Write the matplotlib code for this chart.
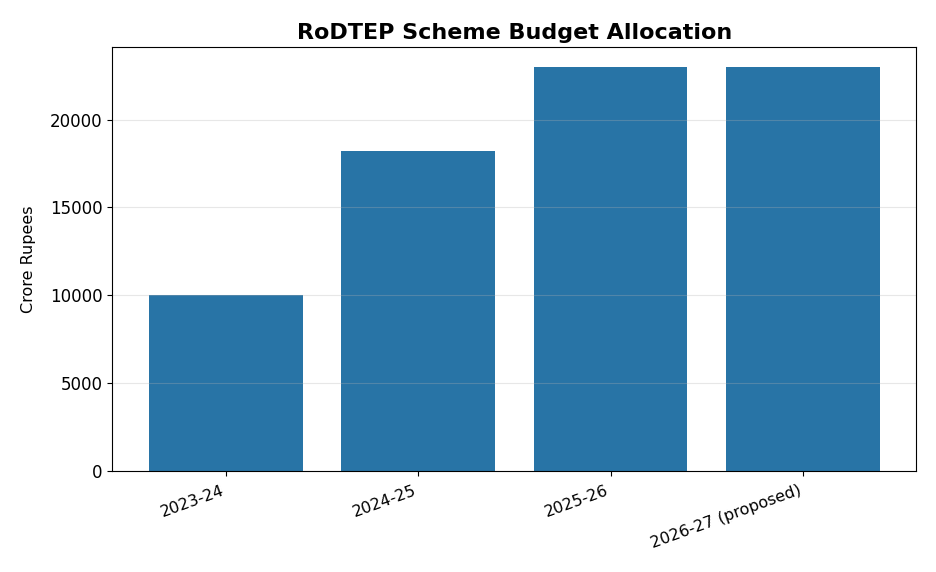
import matplotlib.pyplot as plt

# Budget allocation data
years = ['2023-24', '2024-25', '2025-26', '2026-27 (proposed)']
allocation = [10000, 18233, 23000, 23000]

fig, ax = plt.subplots(figsize=(9.36, 5.72), dpi=100)

ax.bar(years, allocation, color='#2874A6')
ax.grid(axis='y', alpha=0.3)

ax.set_ylabel('Crore Rupees', fontsize=11.5, labelpad=10)
ax.set_title('RoDTEP Scheme Budget Allocation', fontsize=16, fontweight='bold')
ax.tick_params(axis='y', labelsize=12)
ax.tick_params(axis='x', labelsize=11.5, pad=5)
plt.setp(ax.get_xticklabels(), rotation=20, ha='right')

plt.subplots_adjust(left=0.12, right=0.979, top=0.918, bottom=0.177)
plt.savefig('out.png')
